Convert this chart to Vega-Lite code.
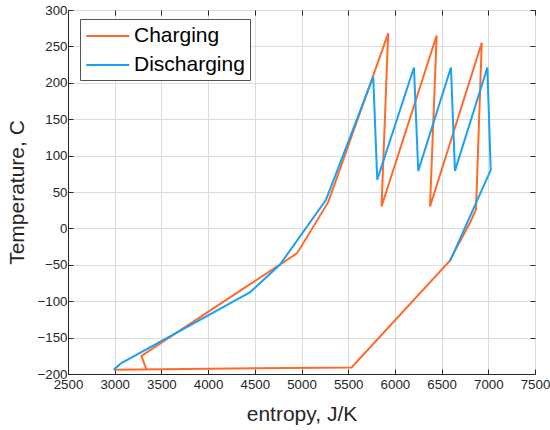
{
  "$schema": "https://vega.github.io/schema/vega-lite/v6.json",
  "autosize": {"type": "none"},
  "padding": {"left": 68, "top": 10, "right": 15, "bottom": 56},
  "width": 467,
  "height": 364,
  "background": "white",
  "config": {
    "view": {"stroke": "#262626", "strokeWidth": 1},
    "font": "Liberation Sans",
    "axis": {
      "labelFont": "Liberation Sans",
      "titleFont": "Liberation Sans",
      "labelFontSize": 13.3,
      "labelColor": "#262626",
      "titleColor": "#262626",
      "titleFontWeight": "normal",
      "titleFontSize": 21,
      "gridColor": "#dcdcdc",
      "gridWidth": 1,
      "tickColor": "#262626",
      "tickSize": -5,
      "domainColor": "#262626",
      "format": "d"
    }
  },
  "data": {
    "values": [
      {"series": "Charging", "o": 1, "s": 3340, "T": -194},
      {"series": "Charging", "o": 2, "s": 3286, "T": -175},
      {"series": "Charging", "o": 3, "s": 4954, "T": -34},
      {"series": "Charging", "o": 4, "s": 5286, "T": 36},
      {"series": "Charging", "o": 5, "s": 5928, "T": 268},
      {"series": "Charging", "o": 6, "s": 5857, "T": 30},
      {"series": "Charging", "o": 7, "s": 6447, "T": 265},
      {"series": "Charging", "o": 8, "s": 6376, "T": 30},
      {"series": "Charging", "o": 9, "s": 6930, "T": 255},
      {"series": "Charging", "o": 10, "s": 6868, "T": 26},
      {"series": "Charging", "o": 11, "s": 6805, "T": 8},
      {"series": "Charging", "o": 12, "s": 6584, "T": -45},
      {"series": "Charging", "o": 13, "s": 5536, "T": -191},
      {"series": "Charging", "o": 14, "s": 2990, "T": -194},
      {"series": "Discharging", "o": 1, "s": 2990, "T": -194},
      {"series": "Discharging", "o": 2, "s": 3072, "T": -185},
      {"series": "Discharging", "o": 3, "s": 4447, "T": -88},
      {"series": "Discharging", "o": 4, "s": 4768, "T": -50},
      {"series": "Discharging", "o": 5, "s": 5261, "T": 39},
      {"series": "Discharging", "o": 6, "s": 5768, "T": 208},
      {"series": "Discharging", "o": 7, "s": 5811, "T": 67},
      {"series": "Discharging", "o": 8, "s": 6204, "T": 221},
      {"series": "Discharging", "o": 9, "s": 6250, "T": 79},
      {"series": "Discharging", "o": 10, "s": 6600, "T": 221},
      {"series": "Discharging", "o": 11, "s": 6643, "T": 79},
      {"series": "Discharging", "o": 12, "s": 6990, "T": 221},
      {"series": "Discharging", "o": 13, "s": 7026, "T": 80},
      {"series": "Discharging", "o": 14, "s": 6590, "T": -45}
    ]
  },
  "layer": [
    {
      "mark": {"type": "line", "strokeWidth": 2},
      "encoding": {
        "x": {
          "field": "s", "type": "quantitative",
          "scale": {"domain": [2500, 7500], "nice": false, "zero": false},
          "axis": {"title": "entropy, J/K", "values": [2500,3000,3500,4000,4500,5000,5500,6000,6500,7000,7500], "labelPadding": 8, "titlePadding": 13, "labelFlush": false, "labelOverlap": false}
        },
        "y": {
          "field": "T", "type": "quantitative",
          "scale": {"domain": [-200, 300], "nice": false, "zero": false},
          "axis": {"title": "Temperature, C", "values": [-200,-150,-100,-50,0,50,100,150,200,250,300], "labelPadding": 6, "titlePadding": 10, "labelFlush": false, "labelOverlap": false}
        },
        "order": {"field": "o", "type": "quantitative"},
        "detail": {"field": "series"},
        "color": {
          "field": "series", "type": "nominal",
          "scale": {"domain": ["Charging", "Discharging"], "range": ["#FF6A2B", "#1BA0F2"]},
          "legend": {
            "title": null,
            "orient": "none",
            "legendX": 12,
            "legendY": 9,
            "symbolType": "M-1,0H3",
            "symbolSize": 462,
            "symbolStrokeWidth": 2,
            "labelFontSize": 21,
            "labelFont": "Liberation Sans",
            "labelColor": "#000000",
            "rowPadding": 7,
            "padding": 5,
            "labelOffset": 25,
            "strokeColor": "#555555",
            "fillColor": "white"
          }
        }
      }
    },
    {
      "mark": {"type": "point", "opacity": 0},
      "encoding": {
        "x": {"field": "s", "type": "quantitative", "scale": {"domain": [2500, 7500], "nice": false, "zero": false},
          "axis": {"orient": "top", "labels": false, "title": null, "grid": false, "domain": false, "values": [2500,3000,3500,4000,4500,5000,5500,6000,6500,7000,7500]}},
        "y": {"field": "T", "type": "quantitative", "scale": {"domain": [-200, 300], "nice": false, "zero": false},
          "axis": {"orient": "right", "labels": false, "title": null, "grid": false, "domain": false, "values": [-200,-150,-100,-50,0,50,100,150,200,250,300]}}
      }
    }
  ],
  "resolve": {"axis": {"x": "independent", "y": "independent"}}
}
